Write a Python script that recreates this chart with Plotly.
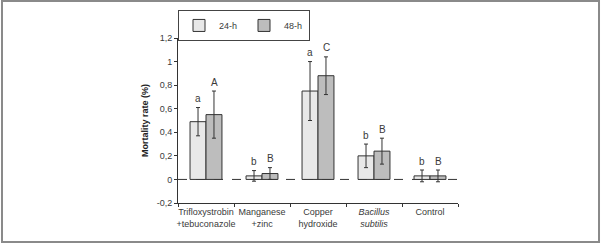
import plotly.graph_objects as go

categories = ["Trifloxystrobin<br>+tebuconazole", "Manganese<br>+zinc", "Copper<br>hydroxide",
              "<i>Bacillus</i><br><i>subtilis</i>", "Control"]
vals_24 = [0.49, 0.03, 0.75, 0.20, 0.03]
err_24 = [0.12, 0.045, 0.25, 0.10, 0.05]
vals_48 = [0.55, 0.05, 0.88, 0.24, 0.03]
err_48 = [0.20, 0.05, 0.16, 0.11, 0.05]
letters_24 = ["a", "b", "a", "b", "b"]
letters_48 = ["A", "B", "C", "B", "B"]
ytick_vals = [-0.2, 0, 0.2, 0.4, 0.6, 0.8, 1, 1.2]
ytick_text = ["-0,2", "0", "0,2", "0,4", "0,6", "0,8", "1", "1,2"]

FONT = "Liberation Sans Narrow, Arial Narrow, Liberation Sans, Arial"
TXT = "#3a3a3a"

fig = go.Figure()
fig.add_bar(name="24-h", x=categories, y=vals_24,
            marker=dict(color="#e8e8e8", line=dict(color="#333333", width=1)),
            error_y=dict(type="data", array=err_24, color="#333333", thickness=1, width=2))
fig.add_bar(name="48-h", x=categories, y=vals_48,
            marker=dict(color="#bdbdbd", line=dict(color="#333333", width=1)),
            error_y=dict(type="data", array=err_48, color="#333333", thickness=1, width=2))

annotations = []
for i, c in enumerate(categories):
    annotations.append(dict(x=i, xshift=-8, y=vals_24[i] + err_24[i], yshift=9, xref="x", yref="y",
                            text=letters_24[i], showarrow=False, font=dict(size=10, color=TXT, family=FONT)))
    annotations.append(dict(x=i, xshift=8, y=vals_48[i] + err_48[i], yshift=9, xref="x", yref="y",
                            text=letters_48[i], showarrow=False, font=dict(size=10, color=TXT, family=FONT)))

fig.update_layout(
    width=602, height=244,
    margin=dict(l=178, r=144, t=38, b=41, autoexpand=False),
    paper_bgcolor="white", plot_bgcolor="white",
    barmode="group", bargap=0.43, bargroupgap=0,
    font=dict(family=FONT, size=10, color=TXT),
    showlegend=True,
    legend=dict(orientation="h", x=0.0, y=1.17, xanchor="left", yanchor="top",
                bordercolor="#444444", borderwidth=1, bgcolor="white",
                font=dict(size=9, family=FONT, color=TXT), itemwidth=30,
                tracegroupgap=0, entrywidth=20),
    annotations=annotations,
    shapes=[
        dict(type="line", xref="paper", yref="y", x0=0, x1=1, y0=0, y1=0,
             line=dict(color="#333333", width=1, dash="dash"), layer="below"),
        dict(type="rect", xref="paper", yref="paper", x0=-0.6286, x1=1.5036, y0=-0.236, y1=1.224,
             line=dict(color="#8a8a8a", width=2)),
    ],
)
fig.update_xaxes(showline=True, linecolor="#333333", linewidth=1, ticks="outside",
                 tickson="boundaries", ticklen=3, tickcolor="#333333", showgrid=False,
                 tickangle=0, automargin=False,
                 tickfont=dict(size=9, family=FONT, color=TXT))
fig.update_yaxes(range=[-0.2, 1.2], tickvals=ytick_vals, ticktext=ytick_text,
                 showline=True, linecolor="#333333", linewidth=1, ticks="outside", ticklen=3,
                 tickcolor="#333333", showgrid=False, zeroline=False, automargin=False,
                 tickfont=dict(size=9, family=FONT, color=TXT),
                 title=dict(text="<b>Mortality rate (%)</b>", font=dict(size=9, family=FONT, color="#222222"),
                            standoff=6))

fig.write_html("out.html", config={"displayModeBar": False},
               post_script="document.body.style.margin='0';")
